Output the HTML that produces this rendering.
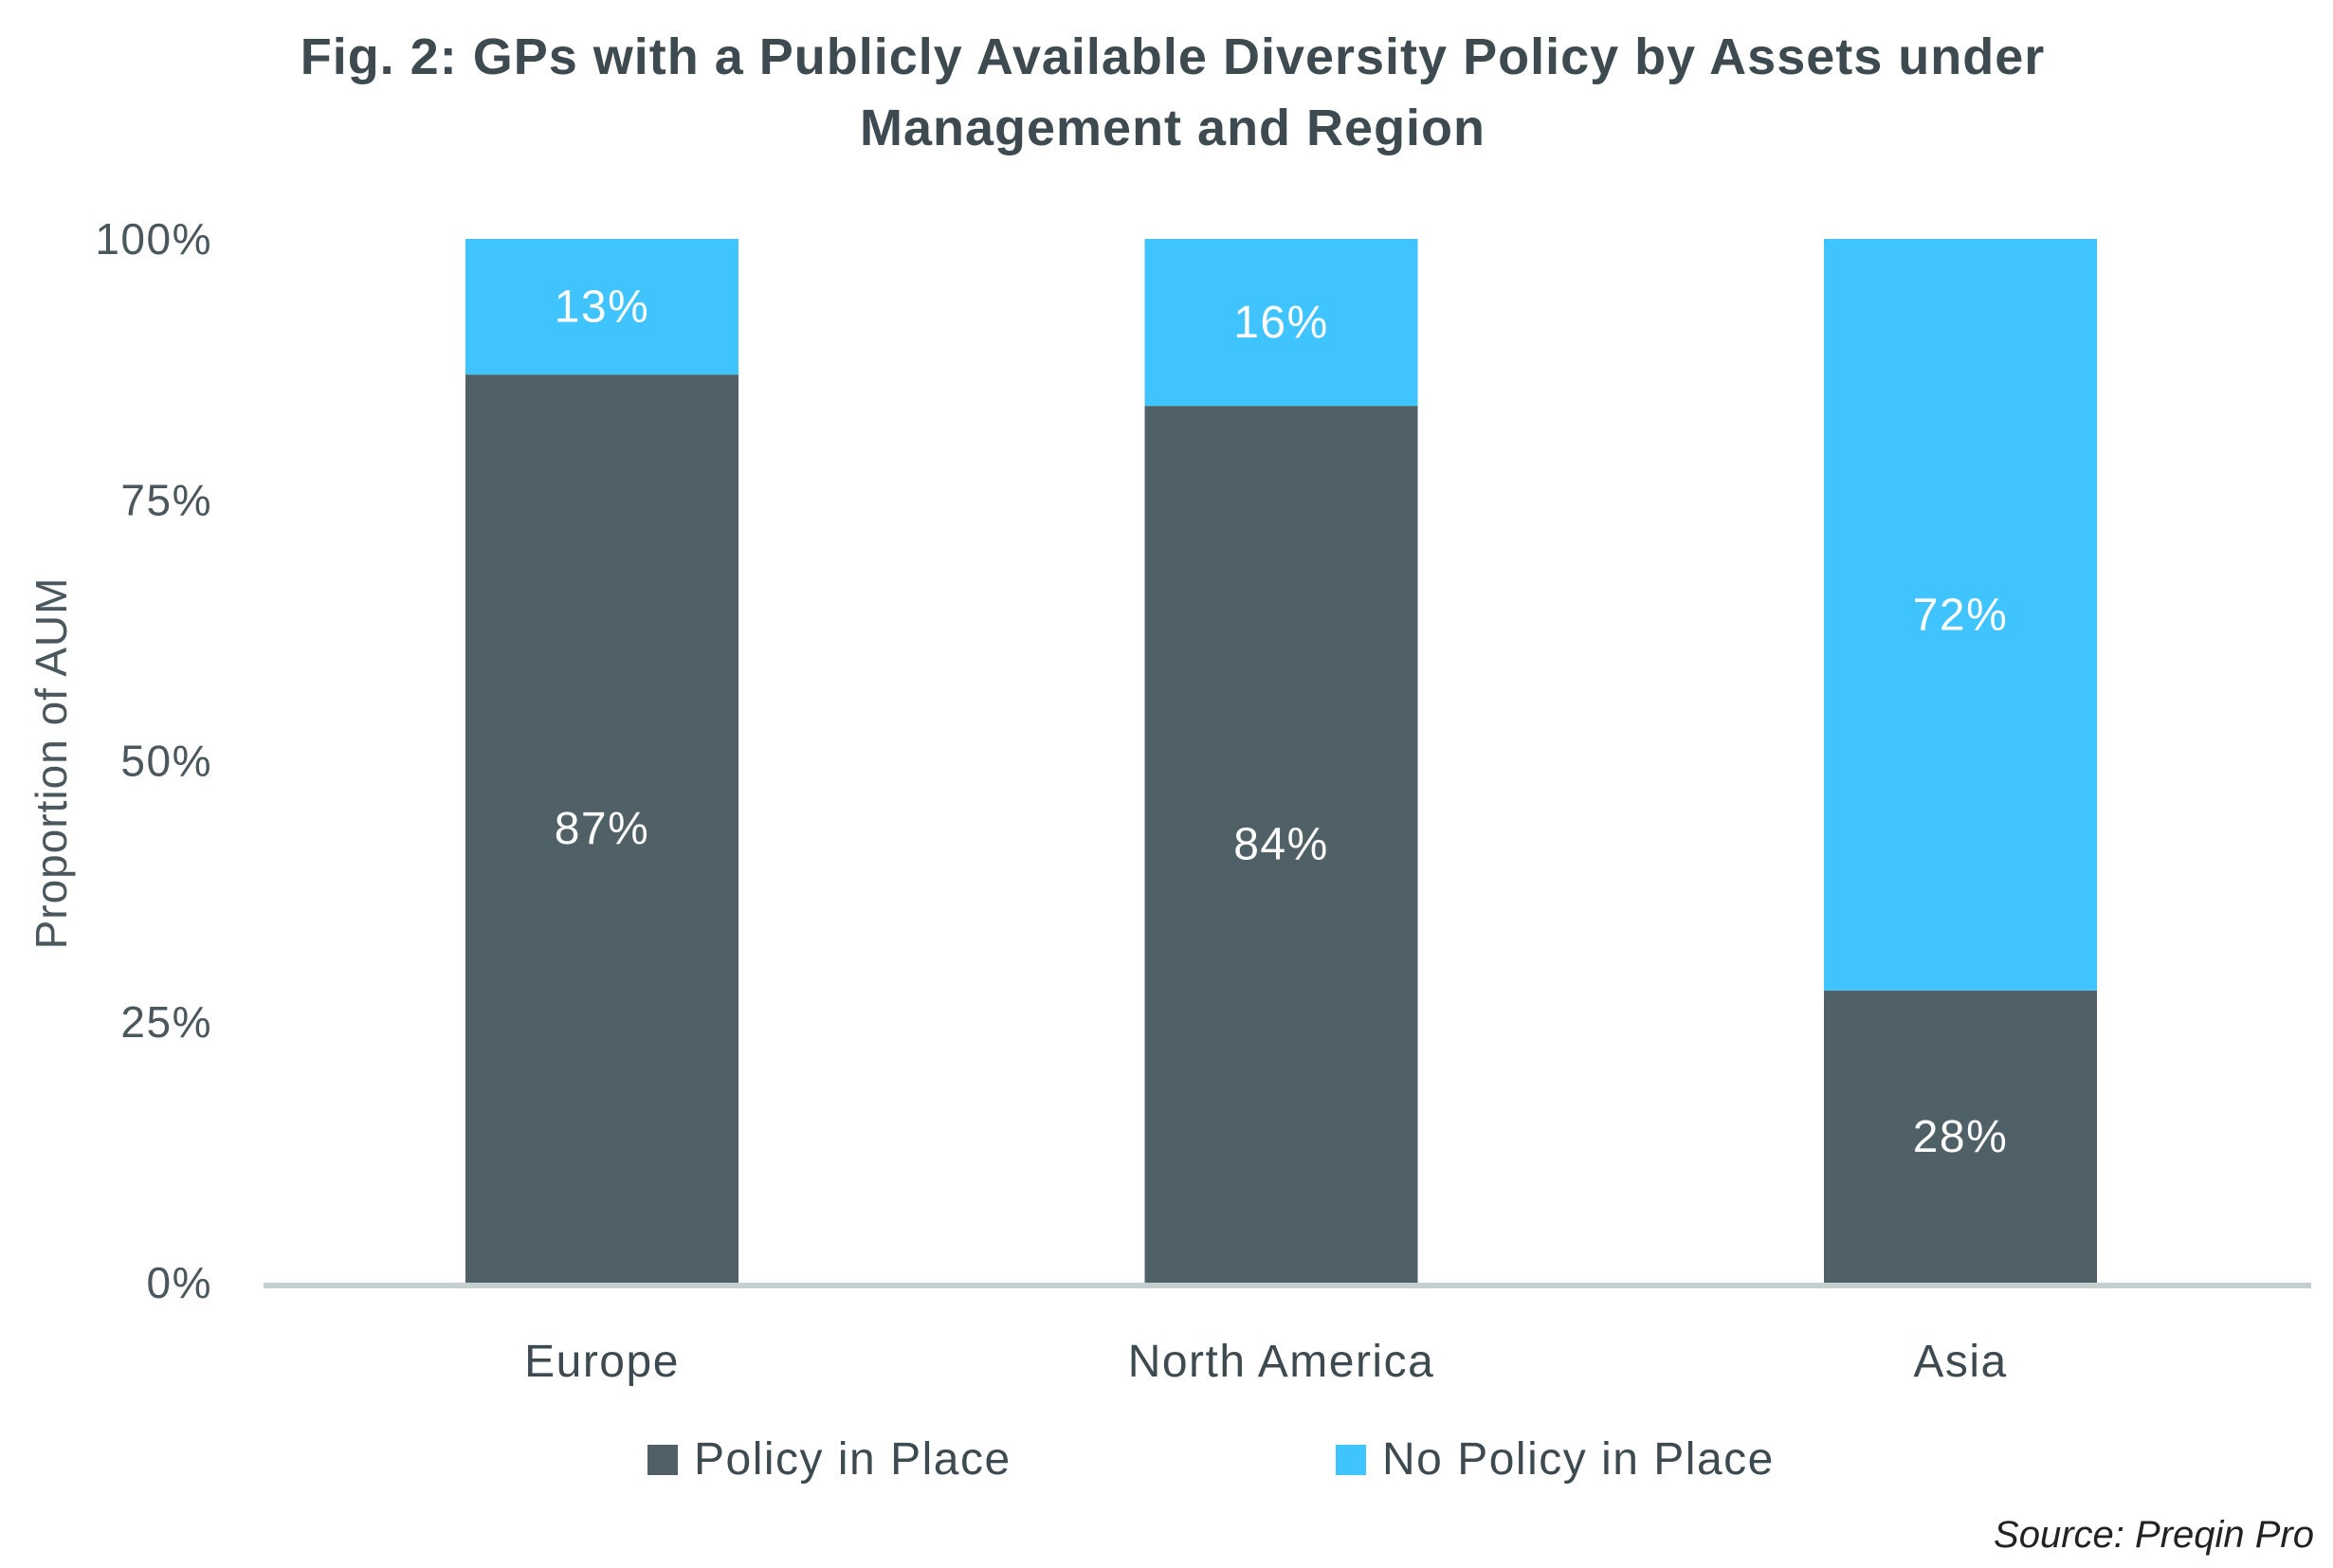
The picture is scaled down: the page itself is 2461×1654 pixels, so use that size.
<!DOCTYPE html>
<html><head><meta charset="utf-8"><style>
html,body{margin:0;padding:0;background:#fff;}
svg{display:block;font-family:"Liberation Sans",sans-serif;}
</style></head><body>
<svg id="chart" width="2461" height="1654" viewBox="0 0 2461 1654">
<text x="1237" y="78" text-anchor="middle" font-size="54" font-weight="bold" letter-spacing="1" fill="#3d4a50">Fig. 2: GPs with a Publicly Available Diversity Policy by Assets under</text>
<text x="1237" y="153" text-anchor="middle" font-size="54" font-weight="bold" letter-spacing="1" fill="#3d4a50">Management and Region</text>
<text transform="translate(70,805) rotate(-90)" text-anchor="middle" font-size="46" letter-spacing="1" fill="#4a575d">Proportion of AUM</text>
<g id="yticks"></g>
<g id="bars"></g>
<line x1="278" y1="1356" x2="2438" y2="1356" stroke="#c4d0cf" stroke-width="6"/>
<g id="xlabels"></g>
<rect x="683" y="1524" width="32" height="32" fill="#4f6066"/>
<text x="732" y="1555" font-size="48" letter-spacing="1.5" fill="#3d4a50">Policy in Place</text>
<rect x="1409" y="1524" width="32" height="32" fill="#40c4ff"/>
<text x="1458" y="1555" font-size="48" letter-spacing="1.5" fill="#3d4a50">No Policy in Place</text>
<text x="2441" y="1632" text-anchor="end" font-size="40" font-style="italic" fill="#222">Source: Preqin Pro</text>
</svg>
<script>
const categories = ["Europe", "North America", "Asia"];
const policyValues = [87, 84, 28];
const noPolicyValues = [13, 16, 72];
const tickValues = [0, 25, 50, 75, 100];

const NS = "http://www.w3.org/2000/svg";
const plotTop = 252, plotBottom = 1353;
const y = v => plotBottom - (v / 100) * (plotBottom - plotTop);
const barW = 288;
const xCenter = i => 635 + i * 716.5;
function mk(tag, attrs, parent) { const e = document.createElementNS(NS, tag); for (const k in attrs) e.setAttribute(k, attrs[k]); parent.appendChild(e); return e; }

const yt = document.getElementById("yticks");
tickValues.forEach(v => {
  const t = mk("text", {x: 224, y: y(v) + 16, "text-anchor": "end", "font-size": 46, "letter-spacing": 1.5, fill: "#4a575d"}, yt);
  t.textContent = v + "%";
  
  
});

const bars = document.getElementById("bars");
const xl = document.getElementById("xlabels");
categories.forEach((c, i) => {
  const cx = xCenter(i);
  const p = policyValues[i], n = noPolicyValues[i];
  const r1 = mk("rect", {x: cx - barW / 2, y: y(p), width: barW, height: y(0) - y(p), fill: "#4f6066"}, bars);
  
  
  const r2 = mk("rect", {x: cx - barW / 2, y: y(p + n), width: barW, height: y(p) - y(p + n), fill: "#40c4ff"}, bars);
  
  
  const t1 = mk("text", {x: cx, y: (y(p) + y(0)) / 2 + 16, "text-anchor": "middle", "font-size": 48, "letter-spacing": 1.5, fill: "#fff"}, bars);
  t1.textContent = p + "%";
  
  
  const t2 = mk("text", {x: cx, y: (y(p + n) + y(p)) / 2 + 16, "text-anchor": "middle", "font-size": 48, "letter-spacing": 1.5, fill: "#fff"}, bars);
  t2.textContent = n + "%";
  
  
  const cl = mk("text", {x: cx, y: 1452, "text-anchor": "middle", "font-size": 48, "letter-spacing": 1.5, fill: "#3d4a50"}, xl);
  cl.textContent = c;
  
  
});
</script>
</body></html>
